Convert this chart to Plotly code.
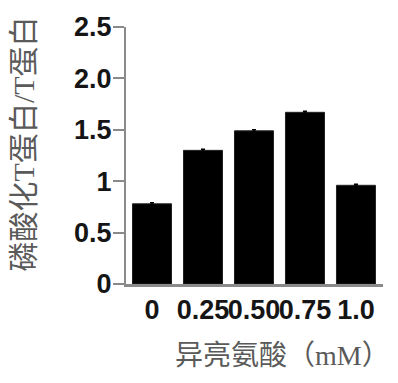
import plotly.graph_objects as go

# Isoleucine dose series: phosphorylated T protein / total T protein
doses = ["0", "0.25", "0.50", "0.75", "1.0"]
ratio = [0.78, 1.30, 1.49, 1.67, 0.96]
ratio_err = [0.01, 0.01, 0.01, 0.01, 0.01]

y_tick_vals = [0, 0.5, 1, 1.5, 2.0, 2.5]
y_tick_text = ["0", "0.5", "1", "1.5", "2.0", "2.5"]

axis_grey = "#8a8a8a"
label_grey = "#5a5a5a"
cjk_font = "Liberation Serif, Noto Sans CJK SC"
num_font = "Liberation Sans, Arial"

fig = go.Figure(
    go.Bar(
        x=list(range(len(doses))),
        y=ratio,
        marker=dict(color="black", line=dict(color="#222222", width=1)),
        error_y=dict(type="data", array=ratio_err, color="black",
                     thickness=1.5, width=2),
        showlegend=False,
    )
)

fig.update_layout(
    width=398,
    height=383,
    margin=dict(l=126, r=15, t=17, b=99),
    paper_bgcolor="white",
    plot_bgcolor="white",
    bargap=0.235,
    xaxis=dict(
        range=[-0.51, 4.53],
        tickmode="array",
        tickvals=list(range(len(doses))),
        ticktext=doses,
        tickangle=0,
        showline=True,
        linecolor=axis_grey,
        linewidth=2.5,
        ticks="",
        showgrid=False,
        zeroline=False,
        tickfont=dict(family=num_font, size=27, color="#151515", weight="bold"),
        ticklabelstandoff=0,
    ),
    yaxis=dict(
        range=[0, 2.5],
        tickmode="array",
        tickvals=y_tick_vals,
        ticktext=y_tick_text,
        showline=True,
        linecolor=axis_grey,
        linewidth=2,
        ticks="outside",
        ticklen=11,
        tickwidth=2,
        tickcolor=axis_grey,
        showgrid=False,
        zeroline=False,
        tickfont=dict(family=num_font, size=27, color="#151515", weight="bold"),
        ticklabelstandoff=-4,
    ),
    annotations=[
        dict(
            text="磷酸化T蛋白/T蛋白",
            xref="paper", yref="paper",
            x=(23 - 126) / 257, y=(284 - 139) / 267,
            xanchor="center", yanchor="middle",
            textangle=-90,
            showarrow=False,
            font=dict(family=cjk_font, size=30, color=label_grey),
        ),
        dict(
            text="异亮氨酸（mM）",
            xref="paper", yref="paper",
            x=(282 - 126) / 257, y=(284 - 358) / 267,
            xanchor="center", yanchor="middle",
            showarrow=False,
            font=dict(family=cjk_font, size=28, color=label_grey),
        ),
    ],
)

fig.write_html("out.html")
